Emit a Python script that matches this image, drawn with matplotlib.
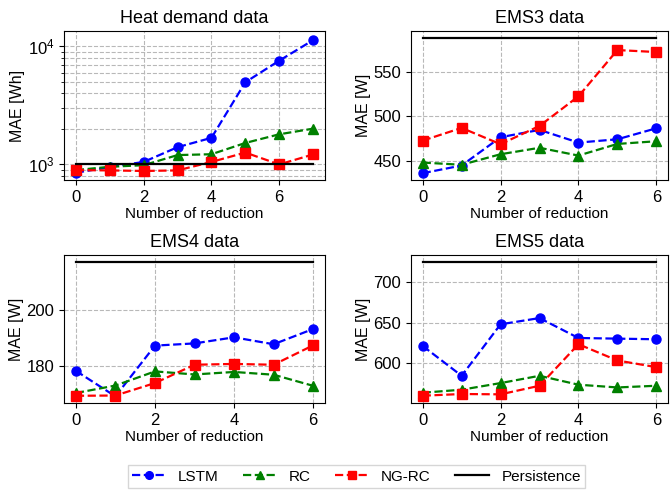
import numpy as np
import matplotlib
matplotlib.use("Agg")
import matplotlib.pyplot as plt

plt.rcParams["font.family"] = ["Liberation Sans", "DejaVu Sans"]

# heat demand (log scale), reductions 0..7
heat_x = [0, 1, 2, 3, 4, 5, 6, 7]
heat_lstm = [850, 950, 1050, 1400, 1680, 4970, 7570, 11300]
heat_rc = [895, 955, 985, 1200, 1220, 1520, 1800, 2010]
heat_ngrc = [895, 890, 880, 890, 1050, 1260, 1000, 1215]
heat_pers = 1000

ems_x = [0, 1, 2, 3, 4, 5, 6]
ems3_lstm = [436.6, 445.2, 476.8, 485.0, 470.8, 474.5, 486.8]
ems3_rc = [448.5, 446.0, 457.8, 465.0, 456.3, 469.3, 472.3]
ems3_ngrc = [473.0, 487.2, 469.0, 489.4, 522.5, 574.2, 572.0]
ems3_pers = 588

ems4_lstm = [178.2, 169.0, 187.3, 188.1, 190.3, 187.8, 193.3]
ems4_rc = [170.2, 172.9, 178.0, 176.9, 177.8, 176.8, 172.8]
ems4_ngrc = [169.2, 169.3, 173.8, 180.4, 180.7, 180.4, 187.4]
ems4_pers = 217.6

ems5_lstm = [621.3, 584.4, 648.0, 655.7, 631.1, 630.3, 629.5]
ems5_rc = [563.5, 567.2, 575.4, 584.4, 573.4, 570.0, 572.1]
ems5_ngrc = [559.8, 561.9, 561.5, 572.1, 623.4, 603.3, 595.1]
ems5_pers = 725.4

W, H = 670, 490
fig = plt.figure(figsize=(6.7, 4.9), dpi=100)


def add_ax(l, r, t, b):
    return fig.add_axes([l / W, 1 - b / H, (r - l) / W, (b - t) / H])


axes = [add_ax(64, 325, 31, 180), add_ax(411, 668, 31, 180),
        add_ax(64, 325, 255, 403), add_ax(411, 668, 255, 403)]

panels = [
    ("Heat demand data", "MAE [Wh]", heat_x, heat_lstm, heat_rc, heat_ngrc, heat_pers),
    ("EMS3 data", "MAE [W]", ems_x, ems3_lstm, ems3_rc, ems3_ngrc, ems3_pers),
    ("EMS4 data", "MAE [W]", ems_x, ems4_lstm, ems4_rc, ems4_ngrc, ems4_pers),
    ("EMS5 data", "MAE [W]", ems_x, ems5_lstm, ems5_rc, ems5_ngrc, ems5_pers),
]

for ax, (title, ylab, x, l, rc, ng, pers) in zip(axes, panels):
    ax.plot(x, l, "--o", color="blue", lw=1.6, ms=6.5, label="LSTM")
    ax.plot(x, rc, "--^", color="green", lw=1.6, ms=6.5, label="RC")
    ax.plot(x, ng, "--s", color="red", lw=1.6, ms=6.5, label="NG-RC")
    ax.plot([x[0], x[-1]], [pers, pers], "-", color="black", lw=1.6, label="Persistence")
    ax.set_title(title, fontsize=13)
    ax.set_ylabel(ylab, fontsize=11.5, labelpad=2)
    ax.set_xlabel("Number of reduction", fontsize=11, labelpad=1.5)
    ax.tick_params(labelsize=12)
    ax.set_xticks([0, 2, 4, 6])

axes[0].set_yscale("log")
axes[0].set_ylim(738, 13500)
axes[0].grid(True, which="both", ls="--", color="#b8b8b8", lw=0.8)
axes[1].set_ylim(429, 595.5)
axes[1].set_yticks([450, 500, 550])
axes[2].set_ylim(166.6, 220)
axes[2].set_yticks([180, 200])
axes[3].set_ylim(550.8, 733.6)
axes[3].set_yticks([600, 650, 700])
for ax in axes[1:]:
    ax.grid(True, ls="--", color="#b8b8b8", lw=0.8)

handles, labels = axes[0].get_legend_handles_labels()
fig.legend(handles, labels, loc="lower center", ncol=4, bbox_to_anchor=(0.532, -0.012),
           fontsize=11, frameon=True, fancybox=False, edgecolor="#cccccc",
           handlelength=2.2, columnspacing=1.6, markerscale=0.85, borderpad=0.3)

fig.savefig("out.png", dpi=100)
